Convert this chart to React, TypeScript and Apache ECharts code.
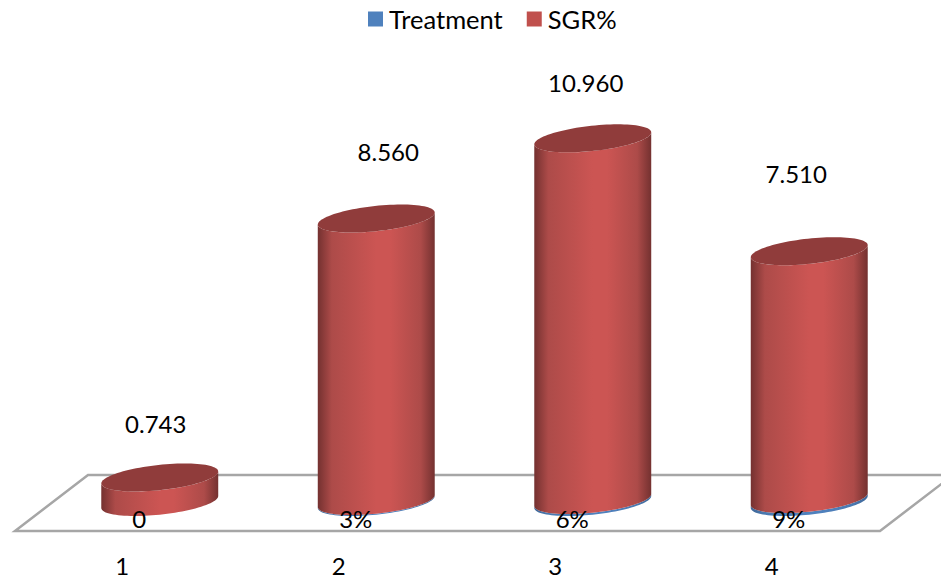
import React, { useEffect, useRef } from "react";
import * as echarts from "echarts";

// Chart values
const categories = ["1", "2", "3", "4"];
const treatment = [0, 0.03, 0.06, 0.09];
const treatmentLabels = ["0", "3%", "6%", "9%"];
const sgr = [0.743, 8.56, 10.96, 7.51];

// Layout of the pseudo-3D scene, in pixels
const DEPTH_X = 37.5;
const DEPTH_Y = -29;
const RADIUS_A = 58.8;
const RADIUS_B = 12.6;
const TILT = (6.14 * Math.PI) / 180;
const VALUE_LABEL_DX = [-4, 12, -7, -13];
const VALUE_LABEL_LIFT = [53.5, 67.5, 56, 78];
const FONT = "Lato, 'Noto Sans', sans-serif";

// Point on a tilted ellipse; t = 0 is the right end, t = PI the left end
function rim(cx: number, cy: number, t: number): number[] {
  const px = RADIUS_A * Math.cos(t);
  const py = RADIUS_B * Math.sin(t);
  return [
    cx + px * Math.cos(TILT) + py * Math.sin(TILT),
    cy - px * Math.sin(TILT) + py * Math.cos(TILT),
  ];
}

function extremeAngle(): number {
  // parameter at which the tilted ellipse reaches its rightmost x
  return Math.atan2(RADIUS_B * Math.sin(TILT), RADIUS_A * Math.cos(TILT));
}

function sideGradient(dark: string, mid: string, light: string) {
  return new echarts.graphic.LinearGradient(0, 0, 1, 0, [
    { offset: 0, color: dark },
    { offset: 0.12, color: mid },
    { offset: 0.5, color: light },
    { offset: 0.62, color: light },
    { offset: 0.88, color: mid },
    { offset: 1, color: dark },
  ]);
}

function cylinder(
  api: any,
  palette: { dark: string; mid: string; light: string; top: string },
  showTop: boolean,
) {
  const idx = api.value(0);
  const start = api.coord([idx, api.value(1)]);
  const end = api.coord([idx, api.value(2)]);
  const cx = start[0] + DEPTH_X;
  const baseY = start[1] + DEPTH_Y;
  const topY = end[1] + DEPTH_Y;
  const t0 = extremeAngle();
  const steps = 48;
  const side: number[][] = [];
  // front half of the top rim, then front half of the bottom rim back again
  for (let i = 0; i <= steps; i++) side.push(rim(cx, topY, t0 + (Math.PI * i) / steps));
  for (let i = steps; i >= 0; i--) side.push(rim(cx, baseY, t0 + (Math.PI * i) / steps));
  const cap: number[][] = [];
  for (let i = 0; i < steps * 2; i++) cap.push(rim(cx, topY, (Math.PI * i) / steps));
  const children: any[] = [
    {
      type: "polygon",
      shape: { points: side },
      style: { fill: sideGradient(palette.dark, palette.mid, palette.light) },
    },
  ];
  if (showTop) {
    children.push({
      type: "polygon",
      shape: { points: cap },
      style: { fill: palette.top },
    });
  }
  return { type: "group", children };
}

const bluePalette = { dark: "#3f6797", mid: "#4a79b0", light: "#4f81bd", top: "#3f6797" };
const redPalette = { dark: "#743130", mid: "#ad4b49", light: "#cc5553", top: "#903c3b" };

export default function App() {
  const ref = useRef<HTMLDivElement>(null);

  useEffect(() => {
    document.body.style.margin = "0";
    const chart = echarts.init(ref.current!, undefined, { renderer: "svg" });
    const treatmentRows = categories.map((_, i) => [i, 0, treatment[i]]);
    const sgrRows = categories.map((_, i) => [i, treatment[i], treatment[i] + sgr[i]]);

    chart.setOption({
      animation: false,
      backgroundColor: "#ffffff",
      textStyle: { fontFamily: FONT },
      legend: {
        data: ["Treatment", "SGR%"],
        left: 363,
        top: 1,
        icon: "rect",
        itemWidth: 15,
        itemHeight: 15,
        itemGap: 24,
        textStyle: { fontSize: 25.5, color: "#000000", fontFamily: FONT, padding: [0, 0, 0, 1] },
      },
      grid: { left: 14, right: 61, top: 36, bottom: 48 },
      xAxis: {
        type: "category",
        data: categories,
        axisLine: { show: false },
        axisTick: { show: false },
        axisLabel: { fontSize: 24, color: "#000000", fontFamily: FONT, margin: 22 },
      },
      yAxis: { type: "value", min: 0, max: 15, show: false, splitLine: { show: false } },
      series: [
        {
          // floor plane of the scene
          type: "custom",
          name: "floor",
          z: 1,
          silent: true,
          clip: false,
          data: [[0, 0, 0]],
          encode: { x: 0, y: 2 },
          renderItem: (params: any) => {
            const g = params.coordSys;
            const front = g.y + g.height;
            const back = front - 56;
            return {
              type: "polygon",
              shape: {
                points: [
                  [g.x + 1, front],
                  [g.x + g.width, front],
                  [g.x + g.width + 73, back],
                  [g.x + 74, back],
                ],
              },
              style: { fill: "none", stroke: "#a6a6a6", lineWidth: 2.5 },
            };
          },
        },
        {
          type: "custom",
          name: "Treatment",
          z: 2,
          clip: false,
          itemStyle: { color: "#4f81bd" },
          data: treatmentRows,
          encode: { x: 0, y: 2 },
          renderItem: (_: any, api: any) => cylinder(api, bluePalette, false),
        },
        {
          type: "custom",
          name: "SGR%",
          z: 3,
          clip: false,
          itemStyle: { color: "#c0504d" },
          data: sgrRows,
          encode: { x: 0, y: 2 },
          renderItem: (_: any, api: any) => cylinder(api, redPalette, true),
        },
        {
          // value captions for both series, above every cylinder
          type: "custom",
          name: "captions",
          z: 4,
          silent: true,
          clip: false,
          data: sgrRows,
          encode: { x: 0, y: 2 },
          renderItem: (params: any, api: any) => {
            const i = params.dataIndex;
            const base = api.coord([i, 0]);
            const top = api.coord([i, api.value(2)]);
            const common = {
              fill: "#000000",
              fontSize: 24,
              fontFamily: FONT,
              textAlign: "center",
              textVerticalAlign: "middle",
            };
            return {
              type: "group",
              children: [
                {
                  type: "text",
                  style: {
                    ...common,
                    text: sgr[i].toFixed(3),
                    x: base[0] + DEPTH_X + VALUE_LABEL_DX[i],
                    y: top[1] + DEPTH_Y - VALUE_LABEL_LIFT[i],
                  },
                },
                {
                  type: "text",
                  style: {
                    ...common,
                    text: treatmentLabels[i],
                    x: base[0] + 17,
                    y: base[1] - 13,
                  },
                },
              ],
            };
          },
        },
      ],
    });
    return () => chart.dispose();
  }, []);

  return <div ref={ref} style={{ width: 941, height: 579 }} />;
}
